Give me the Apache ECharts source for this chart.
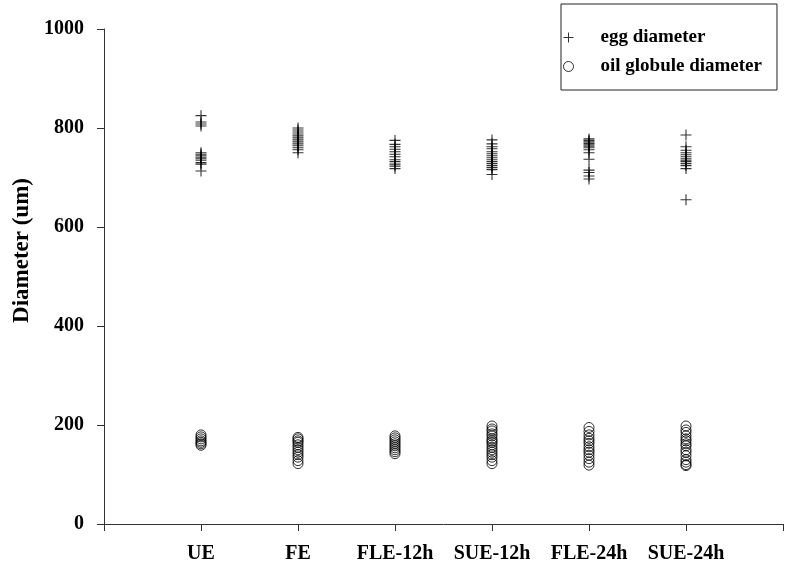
<!DOCTYPE html>
<html>
<head>
<meta charset="utf-8">
<script src="https://cdn.jsdelivr.net/npm/echarts@6/dist/echarts.min.js"></script>
<style>html,body{margin:0;padding:0;background:#fff}#c{width:786px;height:571px}</style>
</head>
<body>
<div id="c"></div>
<script>
// Categories (x positions 1..6)
var categories = ['UE', 'FE', 'FLE-12h', 'SUE-12h', 'FLE-24h', 'SUE-24h'];
var yTicks = [0, 200, 400, 600, 800, 1000];

// Egg diameter (um) per group
var egg_UE     = [825, 812, 808, 804, 750, 747, 744, 741, 738, 735, 730, 727, 713];
var egg_FE     = [800, 796, 792, 788, 784, 780, 776, 772, 768, 764, 760, 756, 750];
var egg_FLE12  = [775, 767, 762, 757, 752, 747, 742, 736, 732, 727, 723, 718];
var egg_SUE12  = [776, 768, 762, 758, 752, 748, 744, 740, 736, 732, 728, 724, 720, 716, 706];
var egg_FLE24  = [778, 775, 772, 769, 766, 763, 760, 756, 750, 737, 715, 710, 703, 697];
var egg_SUE24  = [786, 762, 755, 750, 746, 742, 738, 735, 732, 728, 724, 718, 655];

// Oil globule diameter (um) per group
var oil_UE     = [180, 176, 172, 168, 165, 162, 159];
var oil_FE     = [175, 172, 168, 165, 160, 155, 150, 145, 140, 135, 128, 122];
var oil_FLE12  = [178, 174, 170, 166, 162, 158, 154, 150, 146, 142];
var oil_SUE12  = [198, 192, 188, 182, 178, 172, 168, 165, 160, 155, 150, 145, 140, 135, 128, 122];
var oil_FLE24  = [195, 187, 180, 173, 168, 163, 156, 150, 145, 139, 132, 125, 119];
var oil_SUE24  = [198, 190, 185, 178, 172, 168, 162, 158, 150, 145, 138, 130, 125, 120, 118];

var eggGroups = [egg_UE, egg_FE, egg_FLE12, egg_SUE12, egg_FLE24, egg_SUE24];
var oilGroups = [oil_UE, oil_FE, oil_FLE12, oil_SUE12, oil_FLE24, oil_SUE24];

function toPoints(groups) {
  var pts = [];
  groups.forEach(function (g, i) {
    g.forEach(function (v) { pts.push([i + 1, v]); });
  });
  return pts;
}

var FONT = '"Liberation Serif", "Times New Roman", serif';
var plusPath = 'path://M4.5,0h1v4.5h4.5v1h-4.5v4.5h-1v-4.5h-4.5v-1h4.5z';

var chart = echarts.init(document.getElementById('c'), null, {renderer: 'canvas'});
chart.setOption({
  animation: false,
  backgroundColor: '#fff',
  grid: {left: 104, top: 29, width: 688, height: 495, containLabel: false},
  legend: {
    left: 561, top: 4,
    orient: 'vertical',
    backgroundColor: '#fff',
    borderColor: '#222', borderWidth: 1, borderRadius: 0,
    padding: [24, 15, 14, 2],
    itemGap: 10,
    itemWidth: 10, itemHeight: 10,
    textStyle: {fontFamily: FONT, fontWeight: 'bold', fontSize: 19, color: '#000', padding: [0, 0, 0, 22]},
    selectedMode: false,
    data: [
      {name: 'egg diameter', icon: plusPath, itemStyle: {color: '#000', borderWidth: 0}},
      {name: 'oil globule diameter', icon: 'circle', itemStyle: {color: 'rgba(0,0,0,0)', borderColor: '#000', borderWidth: 1}}
    ]
  },
  xAxis: {
    type: 'value', min: 0, max: 7, interval: 1,
    axisLine: {onZero: false, lineStyle: {color: '#333', width: 1}},
    axisTick: {show: true, length: 7, lineStyle: {color: '#333'}},
    splitLine: {show: false},
    axisLabel: {
      margin: 20,
      fontFamily: FONT, fontWeight: 'bold', fontSize: 20, color: '#000',
      formatter: function (v) { return categories[v - 1] || ''; }
    }
  },
  yAxis: {
    type: 'value', min: yTicks[0], max: yTicks[yTicks.length - 1], interval: 200,
    name: 'Diameter (um)',
    nameLocation: 'middle', nameGap: 60, nameRotate: 90,
    nameTextStyle: {fontFamily: FONT, fontWeight: 'bold', fontSize: 23, color: '#000', padding: [0, 0, 0, 52]},
    axisLine: {show: true, lineStyle: {color: '#333', width: 1}},
    axisTick: {show: true, length: 7, lineStyle: {color: '#333'}},
    splitLine: {show: false},
    axisLabel: {margin: 20, fontFamily: FONT, fontWeight: 'bold', fontSize: 20, color: '#000',
      formatter: function (v) { return String(v); }}
  },
  series: [
    {
      name: 'egg diameter', type: 'scatter',
      symbol: plusPath, symbolSize: 11,
      itemStyle: {color: '#000'},
      emphasis: {disabled: true},
      data: toPoints(eggGroups)
    },
    {
      name: 'oil globule diameter', type: 'scatter',
      symbol: 'circle', symbolSize: 10,
      itemStyle: {color: 'rgba(0,0,0,0)', borderColor: '#000', borderWidth: 1},
      emphasis: {disabled: true},
      data: toPoints(oilGroups)
    }
  ]
});
</script>
</body>
</html>
